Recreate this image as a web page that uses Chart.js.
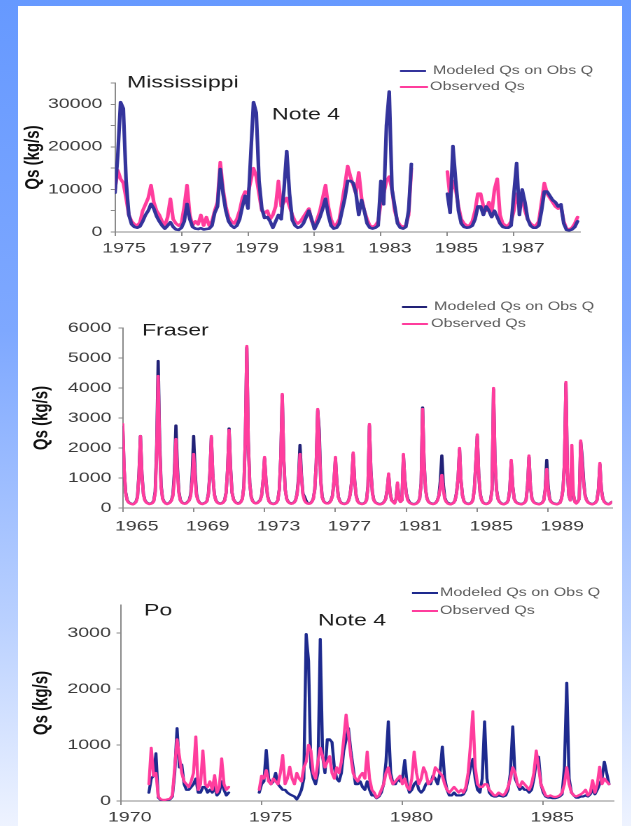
<!DOCTYPE html>
<html>
<head>
<meta charset="utf-8">
<script src="https://cdn.jsdelivr.net/npm/chart.js@4.4.1/dist/chart.umd.min.js"></script>
<style>
  html, body { margin: 0; padding: 0; }
  body {
    width: 631px; height: 826px; overflow: hidden; position: relative;
    background: linear-gradient(to bottom, #6699ff 0%, #7ea8ff 40%, #b9d0ff 75%, #eef3ff 100%);
  }
  #panel { position: absolute; left: 18px; top: 6px; width: 604px; height: 820px; background: #fff; }
  .plot { position: absolute; left: 0; transform-origin: 0 0; transform: scaleX(1.4); }
  canvas { display: block; }
</style>
</head>
<body>
<div id="panel">
  <div class="plot" style="top:34px"><canvas id="miss" width="431" height="225"></canvas></div>
  <div class="plot" style="top:284px"><canvas id="fraser" width="431" height="250"></canvas></div>
  <div class="plot" style="top:564px"><canvas id="po" width="431" height="256"></canvas></div>
</div>
<script>
// ---------- series (monthly sediment flux, kg/s) ----------
const seriesNames = ['Modeled Qs on Obs Q', 'Observed Qs'];

// Mississippi, monthly from Jan 1975 (1984 missing)
const missStart = 1975;
const missModeled = [
  9200, 18000, 30500, 29000, 12000, 4000, 1800, 1200, 1000, 1300, 2500, 4000,
  5000, 6600, 5500, 3700, 2500, 1500, 800, 1500, 2300, 1200, 600, 500,
  1000, 2500, 6600, 3000, 1200, 800, 700, 900, 600, 700, 800, 1500,
  4500, 6000, 14800, 9000, 5000, 2500, 1500, 1000, 1500, 3000, 6000, 8500,
  5500, 18000, 30500, 28000, 12000, 5500, 3300, 3500, 2500, 1000, 2500, 4000,
  3000, 10000, 19000, 9000, 2800, 1500, 1000, 1200, 2000, 3500, 5000, 3000,
  700, 2000, 3500, 5500, 7800, 4000, 1500, 800, 1000, 2000, 5000, 8000,
  12000, 12000, 11500, 9000, 4000, 7500, 5000, 2000, 1000, 800, 1000, 1500,
  12000, 6500, 25000, 33000, 10000, 6000, 2000, 1000, 800, 1200, 5000, 16000,
  null, null, null, null, null, null, null, null, null, null, null, null,
  9000, 4500, 20200, 12000, 5000, 2000, 1200, 1000, 1100, 1500, 3000, 6000,
  6000, 4000, 6000, 5000, 3500, 5000, 3500, 2000, 1200, 1000, 1000, 1500,
  9000, 16200, 4000, 10000, 7000, 3000, 1500, 1000, 1000, 1500, 5000, 9500,
  9500, 8500, 7500, 7000, 6000, 6500, 2000, 500, 400, 600, 1200, 2500
];
const missObserved = [
  10000, 14500, 12500, 11500, 8000, 4000, 2500, 1800, 1500, 2200, 5000, 6500,
  8000, 11000, 7000, 5000, 4000, 2500, 1500, 3500, 7800, 3000, 2000, 1500,
  2000, 6000, 11000, 4000, 1500, 2500, 1800, 4000, 1500, 3500, 1500, 2500,
  5000, 7000, 16400, 10000, 6000, 3500, 2500, 2000, 3000, 5000, 8000, 9500,
  9000, 12000, 15000, 13000, 9000, 5000, 4500, 5000, 3000, 4000, 6000, 12000,
  6000, 7000, 8000, 6000, 4000, 2500, 2000, 2500, 3500, 4500, 5500, 2500,
  1500, 3000, 5000, 8000, 11000, 6000, 3000, 1500, 1800, 3000, 7000, 11000,
  15500, 13000, 11000, 9000, 14000, 8000, 5000, 3000, 1500, 1200, 1500, 2500,
  7000, 9000, 12000, 13000, 10000, 5000, 2500, 1500, 1200, 1500, 4000, 15000,
  null, null, null, null, null, null, null, null, null, null, null, null,
  14200, 8000, 12000, 10000, 6000, 3000, 2000, 1500, 1500, 2500, 5000, 9000,
  9000, 6000, 5000, 7000, 4500, 10000, 12500, 4000, 2000, 1500, 1500, 2500,
  5000, 9000, 6000, 8000, 5000, 3000, 2000, 1500, 1500, 2500, 7000, 11500,
  9000, 8000, 7000, 6000, 5500, 6000, 2500, 800, 600, 1000, 2000, 3500
];
const missYears = [1975, 1977, 1979, 1981, 1983, 1985, 1987];
const missYTicks = [0, 5000, 10000, 15000, 20000, 25000, 30000, 35000];
const missYLabels = [0, 10000, 20000, 30000];

// Fraser, monthly from Jan 1965
const fraserStart = 1965;
const fraserModeled = [
  2700, 1250, 520, 270, 190, 160, 140, 130, 160, 210, 380, 1150,
  2400, 1150, 480, 260, 190, 160, 140, 150, 170, 240, 550, 2100,
  4900, 2200, 750, 320, 210, 160, 140, 160, 190, 260, 450, 1200,
  2750, 1400, 550, 270, 190, 160, 150, 160, 210, 260, 450, 1100,
  2400, 1200, 450, 260, 180, 150, 140, 160, 180, 230, 480, 1150,
  2350, 1100, 470, 260, 190, 160, 150, 160, 190, 260, 520, 1300,
  2650, 1350, 520, 290, 210, 170, 150, 160, 210, 310, 720, 2300,
  5350, 2250, 820, 360, 230, 180, 160, 170, 210, 260, 420, 900,
  1650, 900, 420, 230, 170, 150, 140, 150, 180, 260, 620, 1700,
  3750, 1650, 620, 310, 210, 170, 150, 160, 190, 260, 470, 1000,
  2100, 1100, 480, 380, 260, 160, 150, 160, 210, 310, 620, 1500,
  3250, 2600, 950, 380, 230, 180, 160, 160, 190, 260, 420, 900,
  1650, 820, 370, 230, 170, 150, 140, 150, 180, 260, 470, 900,
  1800, 920, 420, 230, 170, 150, 140, 150, 180, 260, 720, 2750,
  1250, 520, 260, 190, 160, 140, 130, 140, 160, 210, 310, 600,
  1100, 520, 260, 210, 160, 300, 800, 320, 210, 260, 1750, 950,
  480, 300, 200, 160, 140, 130, 140, 160, 210, 310, 820, 3350,
  1550, 620, 310, 210, 170, 150, 140, 150, 180, 260, 420, 900,
  1750, 800, 350, 220, 170, 150, 130, 150, 180, 260, 520, 1000,
  1950, 900, 420, 230, 170, 150, 140, 150, 180, 260, 620, 1500,
  2400, 1100, 470, 260, 180, 150, 140, 150, 180, 260, 620, 3950,
  1600, 620, 310, 210, 160, 140, 130, 150, 180, 260, 620, 1550,
  720, 310, 210, 170, 150, 140, 130, 150, 180, 260, 720, 1700,
  720, 310, 210, 170, 150, 140, 130, 150, 180, 260, 620, 1600,
  700, 300, 210, 170, 150, 140, 130, 150, 180, 310, 620, 1500,
  4150, 1200, 420, 260, 1000, 450, 210, 160, 210, 310, 2200, 1700,
  900, 420, 260, 190, 160, 140, 130, 150, 180, 260, 620, 1450,
  620, 310, 210, 160, 140, 130, 160, 200
];
const fraserObserved = [
  2800, 1300, 500, 250, 180, 150, 130, 120, 150, 200, 350, 1100,
  2400, 1100, 450, 250, 180, 150, 130, 140, 160, 220, 500, 1900,
  4400, 2000, 700, 300, 200, 150, 130, 150, 180, 250, 400, 1000,
  2300, 1200, 500, 250, 180, 150, 140, 150, 200, 250, 400, 900,
  1800, 1000, 400, 250, 170, 140, 130, 150, 170, 220, 450, 1100,
  2400, 1100, 450, 250, 180, 150, 140, 150, 180, 250, 500, 1300,
  2600, 1300, 500, 280, 200, 160, 140, 150, 200, 300, 700, 2300,
  5400, 2200, 800, 350, 220, 170, 150, 160, 200, 250, 400, 900,
  1700, 900, 400, 220, 160, 140, 130, 140, 170, 250, 600, 1700,
  3800, 1600, 600, 300, 200, 160, 140, 150, 180, 250, 450, 900,
  1800, 1000, 450, 250, 180, 150, 140, 150, 200, 300, 600, 1500,
  3300, 2300, 900, 350, 220, 170, 150, 150, 180, 250, 400, 900,
  1700, 800, 350, 220, 160, 140, 130, 140, 170, 250, 450, 900,
  1850, 900, 400, 220, 160, 140, 130, 140, 170, 250, 700, 2800,
  1200, 500, 250, 180, 150, 130, 120, 130, 150, 200, 300, 600,
  1150, 500, 250, 200, 150, 300, 850, 300, 200, 250, 1800, 900,
  450, 250, 180, 150, 130, 120, 130, 150, 200, 300, 800, 3300,
  1500, 600, 300, 200, 160, 140, 130, 140, 170, 250, 400, 700,
  1100, 600, 300, 200, 150, 130, 120, 140, 170, 250, 500, 1000,
  2000, 900, 400, 220, 160, 140, 130, 140, 170, 250, 600, 1500,
  2450, 1100, 450, 250, 170, 140, 130, 140, 170, 250, 600, 4000,
  1600, 600, 300, 200, 150, 130, 120, 140, 170, 250, 600, 1600,
  700, 300, 200, 160, 140, 130, 120, 140, 170, 250, 700, 1750,
  700, 300, 200, 160, 140, 130, 120, 140, 170, 250, 600, 1300,
  600, 280, 200, 160, 140, 130, 120, 140, 170, 300, 600, 1500,
  4200, 1200, 400, 250, 2100, 500, 200, 150, 200, 300, 2250, 1500,
  800, 400, 250, 180, 150, 130, 120, 140, 170, 250, 600, 1500,
  600, 300, 200, 150, 130, 120, 150, 200
];
const fraserYears = [1965, 1969, 1973, 1977, 1981, 1985, 1989];
const fraserYTicks = [0, 1000, 2000, 3000, 4000, 5000, 6000];

// Po, monthly from Jan 1971 (Dec 1973 - Nov 1974 missing)
const poStart = 1971;
const poModeled = [
  150, 400, 450, 850, 60, 20, 10, 10, 20, 30, 80, 500,
  1300, 600, 650, 300, 200, 200, 250, 300, 400, 150, 150, 250,
  250, 150, 200, 150, 250, 100, 150, 350, 200, 100, 150, null,
  null, null, null, null, null, null, null, null, null, null, null, 150,
  300, 350, 910, 400, 300, 350, 500, 300, 250, 200, 200, 150,
  120, 100, 80, 30, 100, 200, 400, 2980, 2500, 600, 400, 300,
  500, 2890, 800, 500, 1100, 1100, 1050, 600, 400, 350, 500, 900,
  1100, 1300, 900, 600, 300, 300, 350, 250, 200, 350, 200, 100,
  100, 50, 80, 150, 300, 700, 1420, 500, 300, 300, 400, 350,
  400, 730, 300, 150, 200, 300, 350, 200, 150, 200, 300, 350,
  300, 450, 400, 300, 500, 970, 400, 200, 100, 100, 150, 100,
  100, 100, 120, 200, 400, 600, 750, 400, 200, 150, 400, 1420,
  400, 150, 100, 80, 80, 100, 90, 80, 100, 200, 500, 1330,
  400, 300, 200, 250, 200, 200, 150, 200, 400, 700, 790, 300,
  150, 80, 60, 60, 50, 50, 60, 80, 120, 600, 2110, 400,
  150, 100, 60, 60, 80, 80, 100, 80, 120, 200, 120, 200,
  300, 400, 700, 500, 300
];
const poObserved = [
  300, 950, 450, 500, 80, 30, 20, 20, 30, 40, 100, 600,
  1100, 800, 500, 350, 300, 250, 350, 500, 1150, 200, 300, 900,
  300, 250, 350, 200, 460, 150, 250, 760, 300, 200, 250, null,
  null, null, null, null, null, null, null, null, null, null, null, 200,
  450, 400, 550, 350, 300, 400, 350, 300, 500, 820, 300, 400,
  610, 400, 300, 500, 400, 350, 600, 700, 1000, 900, 500, 400,
  700, 950, 800, 600, 700, 800, 500, 400, 600, 500, 700, 1100,
  1540, 1200, 800, 500, 400, 350, 450, 500, 400, 880, 400, 200,
  150, 60, 100, 200, 300, 500, 600, 400, 300, 350, 400, 450,
  300, 400, 250, 200, 400, 880, 500, 300, 400, 600, 500, 300,
  350, 400, 600, 550, 500, 450, 300, 200, 150, 200, 250, 200,
  150, 200, 150, 250, 500, 1000, 1600, 600, 300, 250, 250, 300,
  300, 200, 150, 100, 100, 150, 120, 100, 150, 250, 400, 600,
  500, 300, 250, 350, 300, 250, 200, 300, 500, 900, 600, 300,
  200, 100, 80, 100, 80, 70, 80, 100, 150, 300, 600, 300,
  150, 100, 80, 100, 120, 150, 200, 100, 150, 370, 150, 300,
  610, 300, 400, 350, 300
];
const poYears = [1970, 1975, 1980, 1985];
const poYTicks = [0, 1000, 2000, 3000];

// ---------- drawing ----------
const STRETCH = 1.4;                 // horizontal scale applied to each plot box
const PANEL_X = 18;                  // page x of the white panel
const lx = px => (px - PANEL_X) / STRETCH;
const FONT = '"Liberation Sans", Arial, Helvetica, sans-serif';
const AXIS = '#8a8a8a';
const TICK = '#3a3a3a';

Chart.defaults.font.family = FONT;

const monthly = (start, values) => values.map((v, i) => ({ x: start + i / 12, y: v }));

// river name, optional note and the two-row key
const panelText = {
  id: 'panelText',
  afterDraw(chart, args, o) {
    const ctx = chart.ctx;
    ctx.save();
    ctx.textBaseline = 'middle';
    ctx.textAlign = 'left';
    ctx.fillStyle = '#1c1c1c';
    ctx.font = o.titleSize + 'px ' + FONT;
    ctx.fillText(o.title, o.titleX, o.titleY);
    if (o.note) ctx.fillText(o.note, o.noteX, o.noteY);
    ctx.font = o.keySize + 'px ' + FONT;
    chart.data.datasets.forEach((ds, i) => {
      const r = o.rows[i];
      ctx.strokeStyle = ds.borderColor;
      ctx.lineWidth = 2;
      ctx.beginPath();
      ctx.moveTo(r.x0, r.y);
      ctx.lineTo(r.x1, r.y);
      ctx.stroke();
      ctx.fillStyle = '#5c5c5c';
      ctx.fillText(ds.label, r.tx, r.y);
    });
    ctx.restore();
  }
};

function buildChart(id, c) {
  const canvas = document.getElementById(id);
  const W = canvas.width, H = canvas.height;
  const left = lx(c.plotLeft), right = lx(c.plotRight);
  const top = c.plotTop - c.canvasTop, bottom = c.plotBottom - c.canvasTop;
  const ty = y => y - c.canvasTop;
  return new Chart(canvas, {
    type: 'line',
    data: {
      datasets: [
        { label: seriesNames[0], data: monthly(c.start, c.modeled), borderColor: c.modeledColor,
          borderWidth: c.lineWidth, order: c.modeledOrder },
        { label: seriesNames[1], data: monthly(c.start, c.observed), borderColor: c.observedColor,
          borderWidth: c.lineWidth, order: c.observedOrder }
      ]
    },
    options: {
      responsive: false,
      animation: false,
      devicePixelRatio: 2,
      spanGaps: false,
      layout: { autoPadding: false, padding: { left: 0, top: top, right: W - right, bottom: 0 } },
      elements: {
        point: { radius: 0, hoverRadius: 0 },
        line: { tension: 0, fill: false, borderJoinStyle: 'round', borderCapStyle: 'round' }
      },
      plugins: {
        legend: { display: false },
        tooltip: { enabled: false },
        panelText: {
          title: c.title, titleSize: c.titleSize, titleX: lx(c.titleX), titleY: ty(c.titleY),
          note: c.note || '', noteX: lx(c.noteX || 0), noteY: ty(c.noteY || 0),
          keySize: c.keySize,
          rows: c.keyRows.map(r => ({ x0: lx(r[0]), x1: lx(r[1]), tx: lx(r[2]), y: ty(r[3]) }))
        }
      },
      scales: {
        x: {
          type: 'linear', min: c.xMin, max: c.xMax,
          afterFit: s => { s.height = H - bottom; },
          afterBuildTicks: s => { s.ticks = c.xTicks.map(v => ({ value: v })); },
          grid: { display: true, drawOnChartArea: false, drawTicks: true, tickLength: 4, color: AXIS },
          border: { display: true, color: AXIS, width: 1 },
          ticks: {
            autoSkip: false, maxRotation: 0, padding: c.xPad, labelOffset: c.xLabelShift / STRETCH,
            color: TICK, font: { size: 14 }, callback: v => String(v)
          }
        },
        y: {
          type: 'linear', min: 0, max: c.yMax,
          afterFit: s => { s.width = left; },
          afterBuildTicks: s => { s.ticks = c.yTicks.map(v => ({ value: v })); },
          grid: { display: true, drawOnChartArea: false, drawTicks: true, tickLength: 3, color: AXIS },
          border: { display: true, color: AXIS, width: 1 },
          ticks: {
            padding: c.yPad, color: TICK, font: { size: 14 },
            callback: v => (c.yLabels.includes(v) ? String(v) : '')
          },
          title: {
            display: true, text: 'Qs (kg/s)', color: '#111',
            font: { size: c.yTitleSize, weight: 'bold' }, padding: { top: c.yTitlePad, bottom: 0 }
          }
        }
      }
    },
    plugins: [panelText]
  });
}

const OBSERVED = '#ff3d9d';

buildChart('miss', {
  start: missStart, modeled: missModeled, observed: missObserved,
  modeledColor: '#34349c', observedColor: OBSERVED, lineWidth: 2.6, modeledOrder: 0, observedOrder: 1,
  canvasTop: 40, plotLeft: 115, plotRight: 580, plotTop: 83, plotBottom: 232,
  xMin: 1975, xMax: 1988.99, xTicks: missYears, xPad: 4, xLabelShift: 9,
  yMax: 35000, yTicks: missYTicks, yLabels: missYLabels, yPad: 6, yTitleSize: 15, yTitlePad: 2,
  title: 'Mississippi', titleSize: 16.5, titleX: 127, titleY: 83,
  note: 'Note 4', noteX: 272, noteY: 115,
  keySize: 11.5, keyRows: [[400, 426, 433, 71], [400, 428, 430, 87]]
});

buildChart('fraser', {
  start: fraserStart, modeled: fraserModeled, observed: fraserObserved,
  modeledColor: '#222277', observedColor: OBSERVED, lineWidth: 2.3, modeledOrder: 1, observedOrder: 0,
  canvasTop: 290, plotLeft: 122.7, plotRight: 612, plotTop: 328, plotBottom: 508,
  xMin: 1965, xMax: 1992.6, xTicks: fraserYears, xPad: 6, xLabelShift: 14,
  yMax: 6000, yTicks: fraserYTicks, yLabels: fraserYTicks, yPad: 5, yTitleSize: 15, yTitlePad: 8,
  title: 'Fraser', titleSize: 16.5, titleX: 142, titleY: 331,
  keySize: 11.5, keyRows: [[402, 427, 434, 307], [402, 428, 431, 324]]
});

buildChart('po', {
  start: poStart, modeled: poModeled, observed: poObserved,
  modeledColor: '#1e2a8e', observedColor: OBSERVED, lineWidth: 2.2, modeledOrder: 1, observedOrder: 0,
  canvasTop: 570, plotLeft: 120.7, plotRight: 613.7, plotTop: 605, plotBottom: 801,
  xMin: 1970, xMax: 1987.5, xTicks: poYears, xPad: 4, xLabelShift: 9,
  yMax: 3500, yTicks: poYTicks, yLabels: poYTicks, yPad: 4, yTitleSize: 15, yTitlePad: 8,
  title: 'Po', titleSize: 16.5, titleX: 144, titleY: 611,
  note: 'Note 4', noteX: 318, noteY: 621,
  keySize: 11.5, keyRows: [[412, 438, 440, 593], [412, 438, 440, 611]]
});
</script>
</body>
</html>
